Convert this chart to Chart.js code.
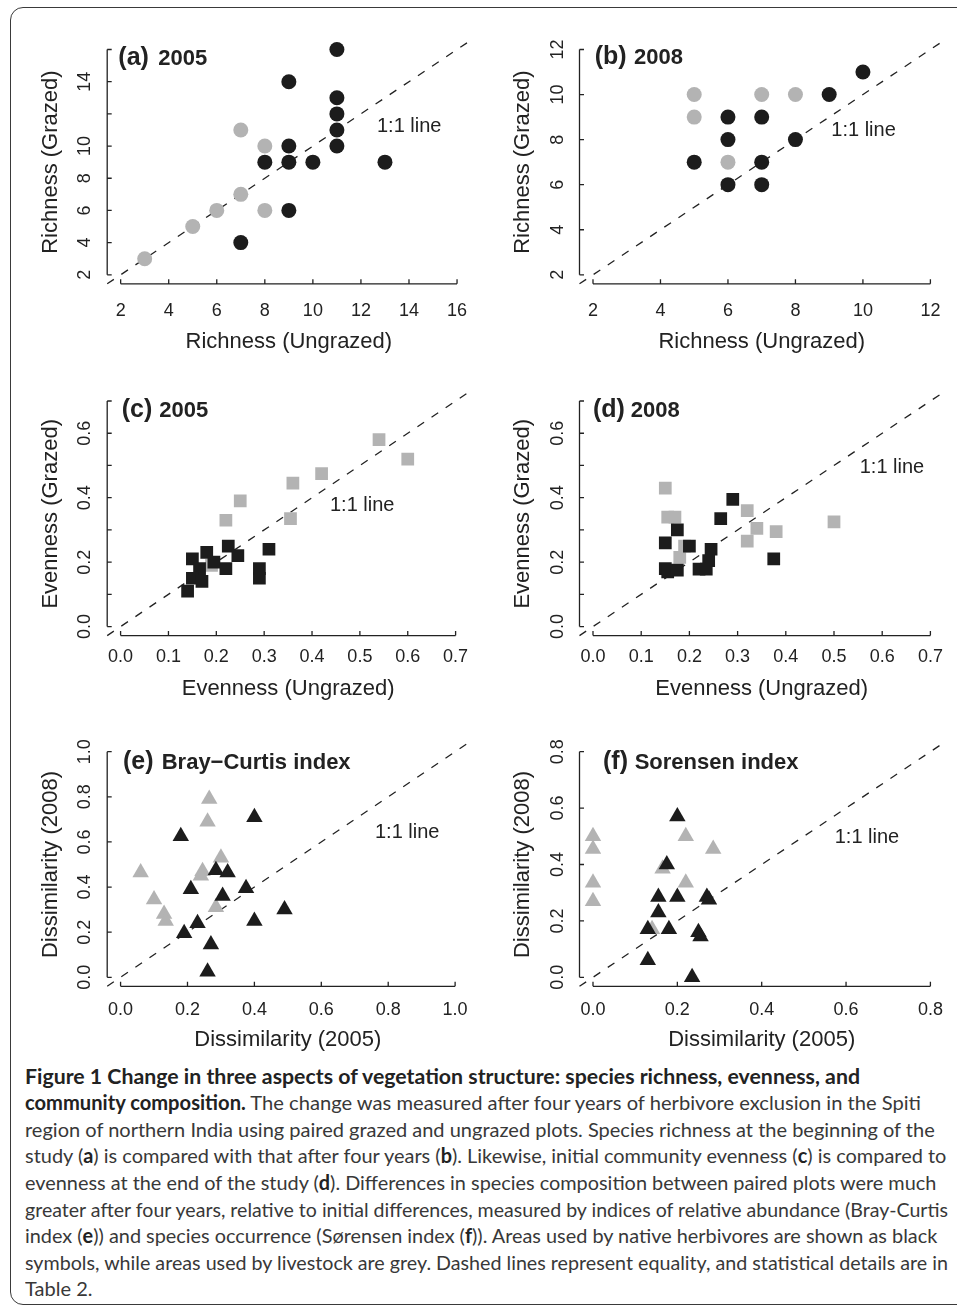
<!DOCTYPE html>
<html>
<head>
<meta charset="utf-8">
<script src="https://cdn.jsdelivr.net/npm/chart.js@4.4.1/dist/chart.umd.min.js"></script>
<style>
  html, body { margin: 0; padding: 0; background: #fff; }
  body { width: 957px; height: 1308px; position: relative; overflow: hidden; }
  #frame { position: absolute; left: 10px; top: 7px; width: 990px; height: 1298px;
           border: 1.5px solid #3a3a3a; border-radius: 13px; box-sizing: border-box; }
  canvas.panel { position: absolute; }
  .ln { position: absolute; left: 25px; white-space: nowrap; transform-origin: 0 0;
        font-family: Lato, "Noto Sans", "Liberation Sans", sans-serif; font-size: 20px;
        line-height: 26.6px; color: #383838; }
  .ln b { color: #222; font-weight: 700; }
</style>
</head>
<body>
<div id="frame"></div>
<canvas class="panel" id="pa" width="478" height="360" style="left:0;top:0"></canvas>
<canvas class="panel" id="pb" width="479" height="360" style="left:478px;top:0"></canvas>
<canvas class="panel" id="pc" width="478" height="352" style="left:0;top:360px"></canvas>
<canvas class="panel" id="pd" width="479" height="352" style="left:478px;top:360px"></canvas>
<canvas class="panel" id="pe" width="478" height="350" style="left:0;top:712px"></canvas>
<canvas class="panel" id="pf" width="479" height="350" style="left:478px;top:712px"></canvas>
<div id="caption"></div>
<script>
// ---------------- DATA ----------------
// (a) Species richness, 2005
const rich05NativeX    = [11, 9, 11, 11, 11, 11, 9, 8, 9, 10, 13, 9, 7];
const rich05NativeY    = [16, 14, 13, 12, 11, 10, 10, 9, 9, 9, 9, 6, 4];
const rich05LivestockX = [7, 8, 7, 6, 8, 5, 3];
const rich05LivestockY = [11, 10, 7, 6, 6, 5, 3];
// (b) Species richness, 2008
const rich08NativeX    = [10, 9, 6, 7, 6, 8, 5, 7, 6, 7];
const rich08NativeY    = [11, 10, 9, 9, 8, 8, 7, 7, 6, 6];
const rich08LivestockX = [5, 5, 7, 8, 6];
const rich08LivestockY = [10, 9, 10, 10, 7];
// (c) Evenness, 2005
const even05NativeX    = [0.31, 0.225, 0.245, 0.18, 0.15, 0.195, 0.22, 0.165, 0.29, 0.29, 0.15, 0.17, 0.14];
const even05NativeY    = [0.24, 0.25, 0.22, 0.23, 0.21, 0.20, 0.18, 0.18, 0.18, 0.15, 0.15, 0.14, 0.11];
const even05LivestockX = [0.54, 0.60, 0.42, 0.36, 0.25, 0.22, 0.355, 0.19];
const even05LivestockY = [0.58, 0.52, 0.475, 0.445, 0.39, 0.33, 0.335, 0.19];
// (d) Evenness, 2008
const even08NativeX    = [0.29, 0.265, 0.175, 0.15, 0.20, 0.245, 0.24, 0.375, 0.15, 0.155, 0.175, 0.22, 0.235];
const even08NativeY    = [0.395, 0.335, 0.30, 0.26, 0.25, 0.24, 0.205, 0.21, 0.18, 0.17, 0.175, 0.178, 0.178];
const even08LivestockX = [0.15, 0.155, 0.17, 0.19, 0.18, 0.32, 0.34, 0.32, 0.38, 0.50];
const even08LivestockY = [0.43, 0.34, 0.34, 0.25, 0.215, 0.36, 0.305, 0.265, 0.295, 0.325];
// (e) Bray-Curtis dissimilarity
const brayNativeX    = [0.40, 0.18, 0.285, 0.32, 0.21, 0.375, 0.305, 0.49, 0.23, 0.40, 0.19, 0.27, 0.26];
const brayNativeY    = [0.71, 0.625, 0.475, 0.465, 0.39, 0.395, 0.36, 0.30, 0.24, 0.25, 0.195, 0.145, 0.025];
const brayLivestockX = [0.265, 0.26, 0.30, 0.06, 0.245, 0.24, 0.10, 0.13, 0.135, 0.285];
const brayLivestockY = [0.79, 0.69, 0.53, 0.465, 0.47, 0.45, 0.345, 0.28, 0.25, 0.31];
// (f) Sorensen dissimilarity
const sorNativeX    = [0.20, 0.175, 0.155, 0.20, 0.27, 0.275, 0.155, 0.13, 0.18, 0.25, 0.255, 0.13, 0.235];
const sorNativeY    = [0.57, 0.40, 0.285, 0.285, 0.285, 0.275, 0.23, 0.17, 0.17, 0.16, 0.145, 0.06, 0.0];
const sorLivestockX = [0, 0, 0, 0, 0.22, 0.285, 0.165, 0.22, 0.14];
const sorLivestockY = [0.50, 0.455, 0.335, 0.27, 0.50, 0.455, 0.385, 0.335, 0.17];

// Tick values and tick labels
const rich05Ticks   = [2, 4, 6, 8, 10, 12, 14, 16];
const rich05XLabels = ['2', '4', '6', '8', '10', '12', '14', '16'];
const rich05YLabels = ['2', '4', '6', '8', '10', '', '14', ''];
const rich08Ticks   = [2, 4, 6, 8, 10, 12];
const rich08Labels  = ['2', '4', '6', '8', '10', '12'];
const evenTicks     = [0, 0.1, 0.2, 0.3, 0.4, 0.5, 0.6, 0.7];
const evenXLabels   = ['0.0', '0.1', '0.2', '0.3', '0.4', '0.5', '0.6', '0.7'];
const evenYLabels   = ['0.0', '', '0.2', '', '0.4', '', '0.6', ''];
const brayTicks     = [0, 0.2, 0.4, 0.6, 0.8, 1.0];
const brayLabels    = ['0.0', '0.2', '0.4', '0.6', '0.8', '1.0'];
const sorTicks      = [0, 0.2, 0.4, 0.6, 0.8];
const sorLabels     = ['0.0', '0.2', '0.4', '0.6', '0.8'];

// ---------------- STYLE ----------------
const BLACK = '#1c1c1c', GREY = '#b3b3b3', INK = '#222';
const FONT = '"Liberation Sans", Arial, Helvetica, sans-serif';

const rAxes = {
  id: 'rAxes',
  afterDatasetsDraw(chart, args, o) {
    const ctx = chart.ctx, xs = chart.scales.x, ys = chart.scales.y, ca = chart.chartArea;
    ctx.save();
    ctx.strokeStyle = INK; ctx.fillStyle = INK; ctx.lineWidth = 1.3; ctx.setLineDash([]);
    const TL = 4.5;
    const yb = ca.bottom, xl = ca.left;
    ctx.beginPath();
    ctx.moveTo(xs.getPixelForValue(o.xTicks[0]), yb);
    ctx.lineTo(xs.getPixelForValue(o.xTicks[o.xTicks.length - 1]), yb);
    o.xTicks.forEach(t => { const p = xs.getPixelForValue(t); ctx.moveTo(p, yb); ctx.lineTo(p, yb - TL); });
    ctx.moveTo(xl, ys.getPixelForValue(o.yTicks[0]));
    ctx.lineTo(xl, ys.getPixelForValue(o.yTicks[o.yTicks.length - 1]));
    o.yTicks.forEach(t => { const p = ys.getPixelForValue(t); ctx.moveTo(xl, p); ctx.lineTo(xl + TL, p); });
    ctx.stroke();

    ctx.font = '18px ' + FONT; ctx.textAlign = 'center'; ctx.textBaseline = 'alphabetic';
    o.xTicks.forEach((t, i) => { if (o.xLabels[i]) ctx.fillText(o.xLabels[i], xs.getPixelForValue(t), yb + o.tickBase); });
    o.yTicks.forEach((t, i) => {
      if (!o.yLabels[i]) return;
      ctx.save(); ctx.translate(xl - 17, ys.getPixelForValue(t)); ctx.rotate(-Math.PI / 2);
      ctx.fillText(o.yLabels[i], 0, 0); ctx.restore();
    });
    ctx.font = '22px ' + FONT;
    ctx.fillText(o.xTitle, (ca.left + ca.right) / 2, yb + o.titleBase);
    ctx.save(); ctx.translate(xl - 50.5, (ca.top + ca.bottom) / 2); ctx.rotate(-Math.PI / 2);
    ctx.fillText(o.yTitle, 0, 0); ctx.restore();

    ctx.textAlign = 'left';
    ctx.font = 'bold 25px ' + FONT; ctx.fillText(o.tag, o.tagX, o.tagY);
    ctx.font = 'bold 22px ' + FONT; ctx.fillText(o.title, o.titleX, o.tagY);
    ctx.font = '20px ' + FONT; ctx.fillText('1:1 line', o.oneX, o.oneY);
    ctx.restore();
  }
};

function pts(xs, ys) { return xs.map((x, i) => ({ x: x, y: ys[i] })); }

function makePanel(id, cfg) {
  const t = cfg.ticks, span = t[t.length - 1] - t[0];
  const lo = t[0] - 0.04 * span, hi = t[t.length - 1] + 0.04 * span;
  new Chart(document.getElementById(id), {
    type: 'scatter',
    data: {
      datasets: [
        { data: pts(cfg.nx, cfg.ny), pointStyle: cfg.shape, pointRadius: cfg.r, pointHoverRadius: cfg.r,
          backgroundColor: BLACK, borderWidth: 0, pointBorderWidth: 0 },
        { data: pts(cfg.gx, cfg.gy), pointStyle: cfg.shape, pointRadius: cfg.r, pointHoverRadius: cfg.r,
          backgroundColor: GREY, borderWidth: 0, pointBorderWidth: 0 },
        { type: 'line', data: [{ x: lo, y: lo }, { x: hi, y: hi }], borderColor: INK, borderWidth: 1.3,
          borderDash: [8, 9], pointRadius: 0, fill: false, clip: false }
      ]
    },
    options: {
      responsive: false, animation: false, devicePixelRatio: 1, events: [],
      layout: { padding: cfg.pad },
      scales: {
        x: { type: 'linear', min: lo, max: hi, display: false },
        y: { type: 'linear', min: lo, max: hi, display: false }
      },
      plugins: {
        legend: { display: false }, tooltip: { enabled: false },
        rAxes: Object.assign({ xTicks: t, yTicks: t }, cfg.ax)
      }
    },
    plugins: [rAxes]
  });
}

const padL1 = { left: 107.2, right: 6.3 }, padR = { left: 101.5, right: 13.1 };
const row1 = { top: 40.5, bottom: 76.2 }, row2 = { top: 32, bottom: 76.4 }, row3 = { top: 30.7, bottom: 75.7 };

makePanel('pa', { ticks: rich05Ticks, nx: rich05NativeX, ny: rich05NativeY, gx: rich05LivestockX, gy: rich05LivestockY,
  shape: 'circle', r: 7.5, pad: Object.assign({}, padL1, row1),
  ax: { xLabels: rich05XLabels, yLabels: rich05YLabels, xTitle: 'Richness (Ungrazed)', yTitle: 'Richness (Grazed)',
        tickBase: 32.5, titleBase: 64.5, tag: '(a)', title: '2005', tagX: 118.3, titleX: 158.3, tagY: 64.5, oneX: 377, oneY: 131.7 } });
makePanel('pb', { ticks: rich08Ticks, nx: rich08NativeX, ny: rich08NativeY, gx: rich08LivestockX, gy: rich08LivestockY,
  shape: 'circle', r: 7.5, pad: Object.assign({}, padR, row1),
  ax: { xLabels: rich08Labels, yLabels: rich08Labels, xTitle: 'Richness (Ungrazed)', yTitle: 'Richness (Grazed)',
        tickBase: 32.5, titleBase: 64.5, tag: '(b)', title: '2008', tagX: 116.7, titleX: 156, tagY: 64, oneX: 353.3, oneY: 136 } });
makePanel('pc', { ticks: evenTicks, nx: even05NativeX, ny: even05NativeY, gx: even05LivestockX, gy: even05LivestockY,
  shape: 'rect', r: 9.0, pad: Object.assign({}, padL1, row2),
  ax: { xLabels: evenXLabels, yLabels: evenYLabels, xTitle: 'Evenness (Ungrazed)', yTitle: 'Evenness (Grazed)',
        tickBase: 26.5, titleBase: 59.5, tag: '(c)', title: '2005', tagX: 121.7, titleX: 159.3, tagY: 57, oneX: 330, oneY: 151 } });
makePanel('pd', { ticks: evenTicks, nx: even08NativeX, ny: even08NativeY, gx: even08LivestockX, gy: even08LivestockY,
  shape: 'rect', r: 9.0, pad: Object.assign({}, padR, row2),
  ax: { xLabels: evenXLabels, yLabels: evenYLabels, xTitle: 'Evenness (Ungrazed)', yTitle: 'Evenness (Grazed)',
        tickBase: 26.5, titleBase: 59.5, tag: '(d)', title: '2008', tagX: 115, titleX: 152.7, tagY: 56.7, oneX: 381.7, oneY: 112.7 } });
makePanel('pe', { ticks: brayTicks, nx: brayNativeX, ny: brayNativeY, gx: brayLivestockX, gy: brayLivestockY,
  shape: 'triangle', r: 9.5, pad: Object.assign({}, padL1, row3),
  ax: { xLabels: brayLabels, yLabels: brayLabels, xTitle: 'Dissimilarity (2005)', yTitle: 'Dissimilarity (2008)',
        tickBase: 28.5, titleBase: 59.7, tag: '(e)', title: 'Bray\u2212Curtis index', tagX: 123, titleX: 161.7, tagY: 57, oneX: 375, oneY: 126.3 } });
makePanel('pf', { ticks: sorTicks, nx: sorNativeX, ny: sorNativeY, gx: sorLivestockX, gy: sorLivestockY,
  shape: 'triangle', r: 9.5, pad: Object.assign({}, padR, row3),
  ax: { xLabels: sorLabels, yLabels: sorLabels, xTitle: 'Dissimilarity (2005)', yTitle: 'Dissimilarity (2008)',
        tickBase: 28.5, titleBase: 59.7, tag: '(f)', title: 'Sorensen index', tagX: 125, titleX: 156.7, tagY: 57, oneX: 356.7, oneY: 131 } });

// ---------------- CAPTION ----------------
const captionLines = [
  '<b>Figure 1 Change in three aspects of vegetation structure: species richness, evenness, and</b>',
  '<b>community composition.</b> The change was measured after four years of herbivore exclusion in the Spiti',
  'region of northern India using paired grazed and ungrazed plots. Species richness at the beginning of the',
  'study (<b>a</b>) is compared with that after four years (<b>b</b>). Likewise, initial community evenness (<b>c</b>) is compared to',
  'evenness at the end of the study (<b>d</b>). Differences in species composition between paired plots were much',
  'greater after four years, relative to initial differences, measured by indices of relative abundance (Bray-Curtis',
  'index (<b>e</b>)) and species occurrence (S\u00f8rensen index (<b>f</b>)). Areas used by native herbivores are shown as black',
  'symbols, while areas used by livestock are grey. Dashed lines represent equality, and statistical details are in',
  'Table 2.'
];
const captionRightEdges = [860, 921, 934.7, 946.3, 936.3, 948, 937.3, 948, null];
const cap = document.getElementById('caption');
const scales = [];
captionLines.forEach((h, i) => {
  const d = document.createElement('div');
  d.className = 'ln'; d.innerHTML = h;
  d.style.top = (1083.7 + i * 26.57 - 21.0) + 'px';
  cap.appendChild(d);
});
const lnEls = cap.querySelectorAll('.ln');
lnEls.forEach((d, i) => {
  if (captionRightEdges[i]) {
    const s = (captionRightEdges[i] - 25) / d.getBoundingClientRect().width;
    scales.push(s);
    d.style.transform = 'scaleX(' + s + ')';
  }
});
const avg = scales.reduce((a, b) => a + b, 0) / scales.length;
lnEls.forEach((d, i) => { if (!captionRightEdges[i]) d.style.transform = 'scaleX(' + avg + ')'; });
</script>
</body>
</html>
